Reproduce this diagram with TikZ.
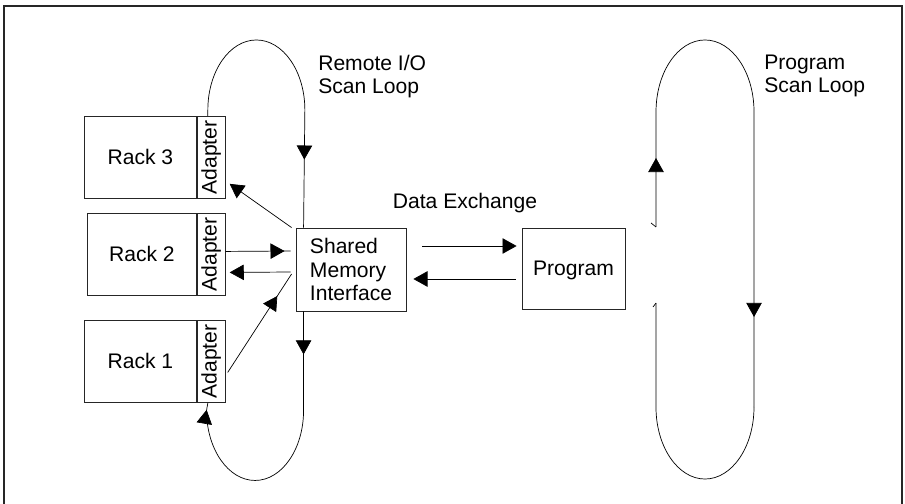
\documentclass[tikz,border=0pt]{standalone}
\usepackage{fontspec}
\setmainfont{Liberation Sans}
\usetikzlibrary{arrows.meta,calc,decorations.markings}

\tikzset{
  box/.style={draw=black!85, line width=0.6pt, inner sep=0pt},
  conn/.style={line width=0.5pt},
  arr/.style={-{Triangle[length=10pt,width=11pt]}},
  tipat/.style={postaction={decorate, decoration={markings,
      mark=at position #1 with {\arrow{Triangle[length=10pt,width=11pt]}}}}},
  frame/.style={line width=1.5pt, draw=black!85},
}

\begin{document}
\begin{tikzpicture}[x=0.025cm, y=-0.025cm, font=\fontsize{15}{16.4}\selectfont]
    \useasboundingbox (0,0) rectangle (905,504);
    \draw[frame] (4,504) -- (4,6) -- (902,6) -- (902,504);

    % Racks with their adapters
    \foreach \n/\x/\y in {3/84/116, 2/87/213, 1/84/320}{
        \node[box, anchor=north west, minimum width={(196-\x)*0.025cm},
              minimum height=2.05cm] (rack\n) at (\x,\y) {Rack \n};
        \node[box, anchor=north west, minimum width=0.7cm,
              minimum height=2.05cm] (ad\n) at (rack\n.north east) {};
        \node[rotate=90, inner sep=0pt] (adtxt\n) at (ad\n) {Adapter};
    }

    % Shared memory and program
    \node[box, minimum width=2.75cm, minimum height=2.075cm, align=left]
        (smi) at (351,269.5) {Shared\\Memory\\Interface};
    \node[box, minimum width=2.575cm, minimum height=2.025cm, text depth=0pt]
        (prog) at (573.5,268.5) {Program};

    % Labels
    \node[anchor=north west, align=left, inner sep=0pt] (riolbl) at (318,55) {Remote I/O\\Scan Loop};
    \node[anchor=north west, align=left, inner sep=0pt] (pslbl) at (764,55) {Program\\Scan Loop};
    \node[anchor=base, inner sep=0pt] (dxlbl) at (465,208) {Data Exchange};

    % Remote I/O scan loop
    \draw[conn, tipat=-1.7cm] ($(ad3.north west)+(11,0)$) -- ++(0,-6)
        arc[start angle=180, end angle=0, x radius=1.2125cm, y radius=1.75cm]
        -- ($(smi.north west)+(8,0)$);
    \draw[conn, tipat=1.075cm, tipat=-0.175cm] ($(smi.south west)+(8,0)$) -- ++(0,99)
        arc[start angle=0, end angle=-180, x radius=1.2125cm, y radius=1.75cm]
        -- ($(ad1.south west)+(11,0)$);

    % Rack connectors
    \draw[conn, arr] ($(smi.north west)+(-4,0)$) -- ($(ad3.south east)+(4,-15)$);
    \draw[conn, tipat=-0.15cm] ($(ad2.east)+(0,-3)$) -- ($(smi.west)+(-5,-18.5)$);
    \draw[conn, arr] ($(smi.west)+(-5,2.5)$) -- ($(ad2.east)+(4,18)$);
    \draw[conn, tipat=-0.65cm] ($(ad1.east)+(2,11)$) -- ($(smi.west)+(-4,4.5)$);

    % Data exchange
    \draw[conn, arr] ($(smi.east)+(16,-23.5)$) -- ($(prog.west)+(-5,-22.5)$);
    \draw[conn, arr] ($(prog.west)+(-6,10.5)$) -- ($(smi.east)+(7,9.5)$);

    % Program scan loop
    \coordinate (psa) at (656,227);
    \coordinate (psb) at (754,407);
    \coordinate (psc) at (656,303);
    \draw[conn, tipat=1.725cm, tipat=-2.25cm] (psa) -- (656,112)
        arc[start angle=180, end angle=0, x radius=1.225cm, y radius=1.8cm]
        -- (psb);
    \draw[conn] (psb)
        arc[start angle=0, end angle=-180, x radius=1.225cm, y radius=1.8cm]
        -- (psc);
    \draw[conn] (psa) -- ++(-5,-4);
    \draw[conn] (psc) -- ++(-3,4);
\end{tikzpicture}
\end{document}
